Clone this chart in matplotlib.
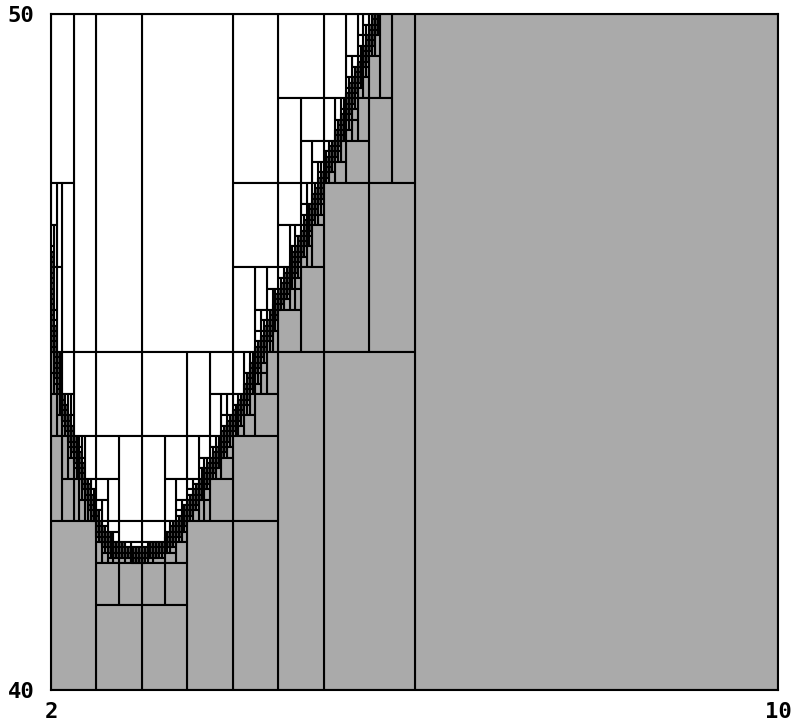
import numpy as np
import matplotlib.pyplot as plt
from matplotlib.collections import PolyCollection

# boundary of the grey set (y below the curve)
curve_x = [2.0, 2.02, 2.055, 2.12, 2.24, 2.34, 2.43, 2.54, 2.65, 2.81, 2.98,
           3.14, 3.31, 3.45, 3.64, 3.86, 4.08, 4.30, 4.52, 4.74, 4.96, 5.18,
           5.37, 5.48, 5.59, 6.0, 10.0]
curve_y = [46.3, 45.33, 44.88, 44.29, 43.70, 43.25, 42.81, 42.37, 42.14, 42.03,
           42.0, 42.06, 42.22, 42.51, 42.96, 43.55, 44.14, 44.99, 45.77, 46.51,
           47.4, 48.24, 49.07, 49.47, 49.96, 51.9, 60.0]

x_lim = (2, 10)
y_lim = (40, 50)
eps_x, eps_y = 0.04, 0.08

cx = np.array(curve_x)
cy = np.array(curve_y)
slopes = np.abs(np.diff(cy) / np.diff(cx))


def g_range(a, b):
    xs = np.concatenate([[a, b], cx[(cx > a) & (cx < b)]])
    ys = np.interp(xs, cx, cy)
    return ys.min(), ys.max()


def slope_max(a, b):
    m = (cx[1:] > a) & (cx[:-1] < b)
    return slopes[m].max()


inside, outside, edge = [], [], []
stack = [(x_lim[0], x_lim[1], y_lim[0], y_lim[1])]
while stack:
    xa, xb, ya, yb = stack.pop()
    w, h = xb - xa, yb - ya
    s = slope_max(xa, xb)
    lo, hi = g_range(xa, xb)
    # some overestimation on the small boxes only
    pad = 0.0
    if w <= 0.125 and h <= 0.3125:
        pad = 0.25 * w * min(s, 15) + 0.06
    if yb <= lo - pad:
        inside.append((xa, xb, ya, yb))
    elif ya >= hi + pad:
        outside.append((xa, xb, ya, yb))
    elif w <= eps_x and h <= eps_y:
        edge.append((xa, xb, ya, yb))
    else:
        cap = 9.9 if yb <= 45 else 15
        L = min(s * (1 + 0.4 * w), cap)
        if h <= eps_y or (w > eps_x and L * w > h + 1e-9):
            xm = (xa + xb) / 2
            stack += [(xa, xm, ya, yb), (xm, xb, ya, yb)]
        else:
            ym = (ya + yb) / 2
            stack += [(xa, xb, ya, ym), (xa, xb, ym, yb)]


def rects(boxes):
    return [[(a, c), (b, c), (b, d), (a, d)] for a, b, c, d in boxes]


fig = plt.figure(figsize=(7.94, 7.25), dpi=100)
ax = fig.add_axes([51 / 794, 1 - 690 / 725, 727 / 794, 676 / 725])

ax.add_collection(PolyCollection(rects(outside), facecolors='white',
                                 edgecolors='black', linewidths=1.5))
ax.add_collection(PolyCollection(rects(inside), facecolors='#aaaaaa',
                                 edgecolors='black', linewidths=1.5))
ax.add_collection(PolyCollection(rects(edge), facecolors='#555555',
                                 edgecolors='black', linewidths=1.5))

ax.set_xlim(*x_lim)
ax.set_ylim(*y_lim)
ax.set_xticks(list(x_lim))
ax.set_yticks(list(y_lim))
ax.tick_params(axis='x', length=0, labelsize=16, pad=9)
ax.tick_params(axis='y', length=0, labelsize=16, pad=12)
for lab in ax.get_xticklabels() + ax.get_yticklabels():
    lab.set_fontweight('bold')
    lab.set_family('DejaVu Sans Mono')
for s in ax.spines.values():
    s.set_linewidth(1.5)

fig.savefig('out.png', dpi=100)
